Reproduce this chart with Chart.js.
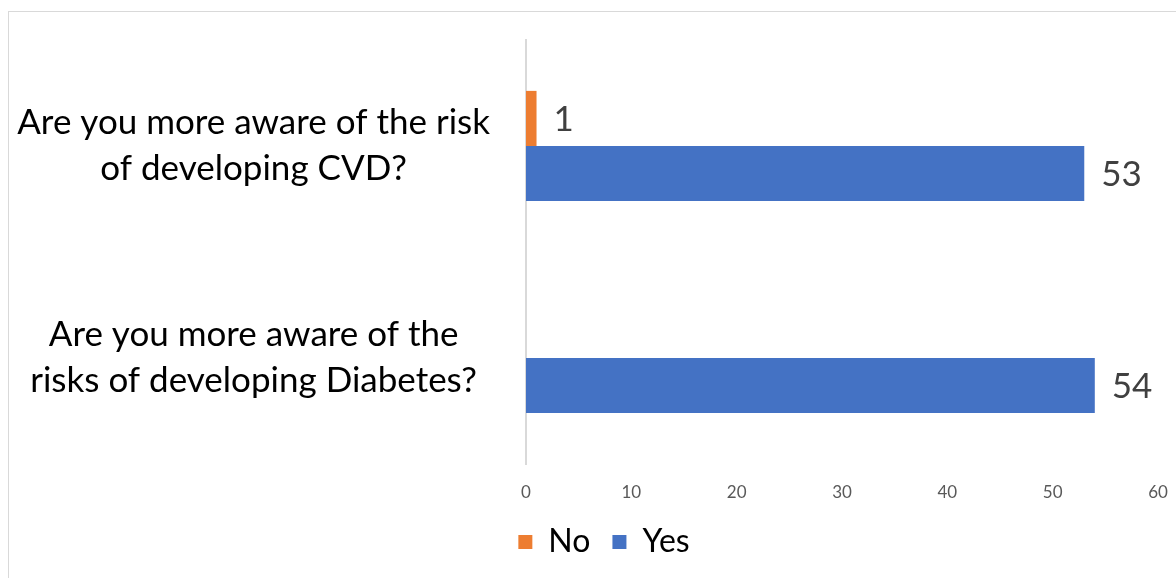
<!DOCTYPE html>
<html>
<head>
<meta charset="utf-8">
<script src="https://cdn.jsdelivr.net/npm/chart.js@4.4.1/dist/chart.umd.min.js"></script>
<style>
  html, body { margin: 0; padding: 0; background: #fff; overflow: hidden; }
  #frame { position: absolute; left: 8px; top: 11px; width: 1300px; height: 700px; border: 1px solid #d9d9d9; }
  #wrap { position: absolute; left: 0; top: 0; width: 1200px; height: 578px; }
</style>
</head>
<body>
<div id="frame"></div>
<div id="wrap"><canvas id="chart"></canvas></div>
<script>
const categories = [
  ["Are you more aware of the risk", "of developing CVD?"],
  ["Are you more aware of the", "risks of developing Diabetes?"],
];
const noValues = [1, null];
const yesValues = [53, 54];
const xTicks = [0, 10, 20, 30, 40, 50, 60];

const FONT = "Lato, 'Open Sans', sans-serif";

// value labels to the right of each bar
const barLabels = {
  id: "barLabels",
  afterDatasetsDraw(chart) {
    const { ctx } = chart;
    ctx.save();
    ctx.font = `35px ${FONT}`;
    ctx.fillStyle = "#404040";
    ctx.textAlign = "left";
    ctx.textBaseline = "middle";
    chart.data.datasets.forEach((ds, di) => {
      const meta = chart.getDatasetMeta(di);
      meta.data.forEach((bar, i) => {
        const v = ds.data[i];
        if (v == null) return;
        ctx.fillText(String(v), bar.x + 17, bar.y + 1);
      });
    });
    ctx.restore();
  },
};

// legend sits centred on the whole frame, a bit right of the canvas centre
const legendShift = {
  id: "legendShift",
  afterLayout(chart) {
    chart.legend.left += 25;
    chart.legend.right += 25;
  },
};

new Chart(document.getElementById("chart"), {
  type: "bar",
  data: {
    labels: categories,
    datasets: [
      { label: "No", data: noValues, backgroundColor: "#ED7D31", borderWidth: 0 },
      { label: "Yes", data: yesValues, backgroundColor: "#4472C4", borderWidth: 0 },
    ],
  },
  options: {
    indexAxis: "y",
    responsive: true, maintainAspectRatio: false, animation: false,
    categoryPercentage: 0.52, barPercentage: 1,
    layout: { padding: { top: 40, right: 42, left: 0, bottom: 10 } },
    scales: {
      x: {
        min: 0, max: 60,
        afterBuildTicks: (s) => { s.ticks = xTicks.map(v => ({ value: v })); },
        grid: { display: false, drawTicks: false },
        border: { display: false },
        ticks: { color: "#595959", padding: 18, font: { family: FONT, size: 17 } },
        afterFit: (s) => { s.height = 40; s.paddingLeft = 0; s.paddingRight = 0; },
      },
      y: {
        grid: { display: false, drawTicks: false },
        border: { display: true, color: "#d9d9d9", width: 2 },
        ticks: { color: "#000", padding: 36, crossAlign: "center",
                 font: { family: FONT, size: 35, lineHeight: 1.31 } },
        afterFit: (s) => { s.width = 526; s.paddingTop = 0; s.paddingBottom = 0; },
      },
    },
    plugins: {
      legend: {
        position: "bottom",
        labels: { boxWidth: 14, boxHeight: 14, padding: 22, color: "#000",
                  font: { family: FONT, size: 32 } },
      },
      tooltip: { enabled: false },
    },
  },
  plugins: [barLabels, legendShift],
});
</script>
</body>
</html>
